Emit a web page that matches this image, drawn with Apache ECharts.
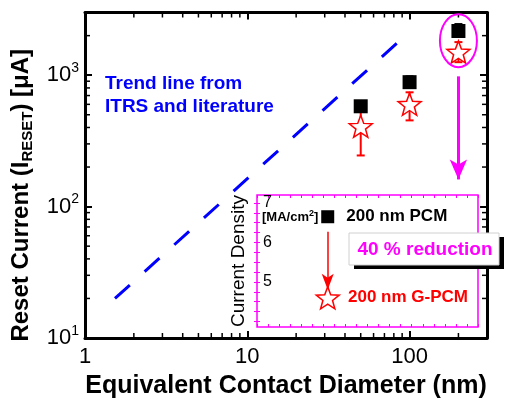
<!DOCTYPE html>
<html>
<head>
<meta charset="utf-8">
<script src="https://cdn.jsdelivr.net/npm/echarts@6/dist/echarts.min.js"></script>
<style>
  html, body { margin: 0; padding: 0; background: #fff; }
  #chart { width: 507px; height: 400px; }
</style>
</head>
<body>
<div id="chart"></div>
<script>
// values
const diameters = [50, 100, 200];
const pcmCurrent = [580, 885, 2170];
const pcmErrHigh = [580, 980, 2450];
const gpcmCurrent = [408, 601, 1500];
const gpcmErrLow = [245, 453, 1256];
const gpcmErrHigh = [570, 741, 1786];
const trendDiam = [1.53, 92];
const trendCurrent = [20, 1950];
const xMinorTicks = [2, 3, 4, 5, 6, 7, 8, 9, 20, 30, 40, 50, 60, 70, 80, 90, 200];
const yMinorTicks = [20, 30, 40, 50, 60, 70, 80, 90, 200, 300, 400, 500, 600, 700, 800, 900, 2000];
const xLabels = [1, 10, 100];
const yLabels = [10, 100, 1000];
const circledPoint = [200, 1830];
const arrowStart = [200, 980];
const arrowEnd = [200, 161];

// inset
const insetNames = ['200 nm PCM', '200 nm G-PCM'];
const insetDensity = [6.65, 4.6];
const insetPos = 3.2;
const insetYLabels = [5, 6, 7];
const insetYTicks = [4, 4.25, 4.5, 4.75, 5, 5.25, 5.5, 5.75, 6, 6.25, 6.5, 6.75, 7];
const insetArrow = [6.27, 4.8];

const FONT = "'Liberation Sans', Arial, Helvetica, sans-serif";
const MAGENTA = '#ff00ff';
const RED = '#ff0000';
const BLUE = '#0000ff';

function starPath() {
  let d = '';
  for (let i = 0; i < 10; i++) {
    const r = i % 2 ? 0.42 : 1;
    const a = -Math.PI / 2 + i * Math.PI / 5;
    d += (i ? 'L' : 'M') + (r * Math.cos(a)).toFixed(3) + ' ' + (r * Math.sin(a)).toFixed(3);
  }
  return 'path://' + d + 'Z';
}
const STAR = starPath();

function isOneOf(v, list) {
  return list.some((t) => Math.abs(v - t) / t < 1e-6);
}

let chart = echarts.init(document.getElementById('chart'));

const mainAxisLine = { lineStyle: { color: '#000', width: 3 } };
const mainTick = { inside: true, length: 7, lineStyle: { color: '#000', width: 2 } };
const pinkTick = { inside: true, length: 3, lineStyle: { color: MAGENTA, width: 1 } };

function errorBars(color, low, high) {
  return {
    type: 'custom',
    xAxisIndex: 0,
    yAxisIndex: 0,
    z: 3,
    silent: true,
    encode: { x: 0, y: [1, 2] },
    data: diameters.map((d, i) => [d, low[i], high[i]]),
    renderItem(params, api) {
      const p1 = api.coord([api.value(0), api.value(1)]);
      const p2 = api.coord([api.value(0), api.value(2)]);
      const w = 4;
      const st = { stroke: color, lineWidth: 2 };
      return {
        type: 'group',
        children: [
          { type: 'line', shape: { x1: p1[0], y1: p1[1], x2: p2[0], y2: p2[1] }, style: st },
          { type: 'line', shape: { x1: p1[0] - w, y1: p1[1], x2: p1[0] + w, y2: p1[1] }, style: st },
          { type: 'line', shape: { x1: p2[0] - w, y1: p2[1], x2: p2[0] + w, y2: p2[1] }, style: st },
        ],
      };
    },
  };
}

let option = {
  animation: false,
  textStyle: { fontFamily: FONT },
  grid: [
    { left: 85, right: 20, top: 12.5, bottom: 62, outerBoundsMode: 'none' },
    {
      left: 257, top: 195, width: 221, height: 132, outerBoundsMode: 'none',
      show: true, backgroundColor: '#fff', borderColor: MAGENTA, borderWidth: 1.5,
    },
  ],
  xAxis: [
    {
      type: 'log', gridIndex: 0, min: 1, max: 300, position: 'bottom',
      axisLine: mainAxisLine, axisTick: mainTick, splitLine: { show: false },
      axisLabel: {
        color: '#000', fontSize: 22, margin: 8, fontFamily: FONT,
        formatter: (v) => (isOneOf(v, xLabels) ? String(Math.round(v)) : ''),
      },
      name: 'Equivalent Contact Diameter (nm)',
      nameLocation: 'middle', nameGap: 36,
      nameTextStyle: { color: '#000', fontSize: 25, fontWeight: 'bold', fontFamily: FONT },
    },
    {
      type: 'log', gridIndex: 0, min: 1, max: 300, position: 'top',
      axisLine: mainAxisLine, axisTick: mainTick, splitLine: { show: false },
      axisLabel: { show: false },
    },
    {
      type: 'value', gridIndex: 1, min: 0, max: 10, interval: 0.5, position: 'bottom', z: 5,
      axisLine: { show: false }, axisTick: pinkTick, axisLabel: { show: false }, splitLine: { show: false },
    },
    {
      type: 'value', gridIndex: 1, min: 0, max: 10, interval: 0.5, position: 'top', z: 5,
      axisLine: { show: false }, axisTick: pinkTick, axisLabel: { show: false }, splitLine: { show: false },
    },
  ],
  yAxis: [
    {
      type: 'log', gridIndex: 0, min: 10, max: 3000, position: 'left',
      axisLine: mainAxisLine, axisTick: mainTick, splitLine: { show: false },
      axisLabel: {
        color: '#000', margin: 6, fontFamily: FONT,
        formatter: (v) => (isOneOf(v, yLabels) ? '{b|10}{s|' + Math.round(Math.log10(v)) + '}' : ''),
        rich: {
          b: { fontSize: 22, color: '#000', fontFamily: FONT },
          s: { fontSize: 14, color: '#000', fontFamily: FONT, padding: [0, 0, 14, 0] },
        },
      },
      name: 'Reset Current (I{sub|RESET}) [\u03bcA]',
      nameLocation: 'middle', nameGap: 50, nameRotate: 90,
      nameTextStyle: {
        color: '#000', fontSize: 24, fontWeight: 'bold', fontFamily: FONT, padding: [0, 40, 0, 0],
        rich: { sub: { fontSize: 15, fontWeight: 'bold', color: '#000', fontFamily: FONT, padding: [12, 0, 0, 0] } },
      },
    },
    {
      type: 'log', gridIndex: 0, min: 10, max: 3000, position: 'right',
      axisLine: mainAxisLine, axisTick: mainTick, splitLine: { show: false },
      axisLabel: { show: false },
    },
    {
      type: 'value', gridIndex: 1, min: 3.86, max: 7.2, position: 'left', z: 5,
      axisLine: { show: false }, splitLine: { show: false },
      axisTick: { inside: true, length: 3, lineStyle: { color: MAGENTA, width: 1 }, customValues: insetYTicks },
      axisLabel: { customValues: insetYLabels, inside: true, margin: 6, color: '#000', fontSize: 16, fontFamily: FONT },
      name: 'Current Density', nameLocation: 'middle', nameGap: 9, nameRotate: 90,
      nameTextStyle: { color: '#000', fontSize: 19, fontFamily: FONT },
    },
    {
      type: 'value', gridIndex: 1, min: 3.86, max: 7.2, position: 'right', z: 5,
      axisLine: { show: false }, splitLine: { show: false },
      axisTick: { inside: true, length: 3, lineStyle: { color: MAGENTA, width: 1 }, customValues: insetYTicks },
      axisLabel: { show: false },
    },
  ],
  series: [
    {
      // minor ticks on bottom/top
      type: 'custom', xAxisIndex: 0, yAxisIndex: 0, silent: true, z: 2,
      data: xMinorTicks.map((v) => [v, 100]),
      renderItem(params, api) {
        const cs = params.coordSys;
        const x = api.coord([api.value(0), 100])[0];
        const st = { stroke: '#000', lineWidth: 1.5 };
        return {
          type: 'group',
          children: [
            { type: 'line', shape: { x1: x, y1: cs.y + cs.height, x2: x, y2: cs.y + cs.height - 5 }, style: st },
            { type: 'line', shape: { x1: x, y1: cs.y, x2: x, y2: cs.y + 5 }, style: st },
          ],
        };
      },
    },
    {
      // minor ticks on left/right
      type: 'custom', xAxisIndex: 0, yAxisIndex: 0, silent: true, z: 2,
      data: yMinorTicks.map((v) => [10, v]),
      renderItem(params, api) {
        const cs = params.coordSys;
        const y = api.coord([10, api.value(1)])[1];
        const st = { stroke: '#000', lineWidth: 1.5 };
        return {
          type: 'group',
          children: [
            { type: 'line', shape: { x1: cs.x, y1: y, x2: cs.x + 5, y2: y }, style: st },
            { type: 'line', shape: { x1: cs.x + cs.width, y1: y, x2: cs.x + cs.width - 5, y2: y }, style: st },
          ],
        };
      },
    },
    {
      name: 'Trend line',
      type: 'line', xAxisIndex: 0, yAxisIndex: 0, symbol: 'none', silent: true,
      data: trendDiam.map((d, i) => [d, trendCurrent[i]]),
      lineStyle: { color: BLUE, width: 3, type: [20, 20] },
    },
    errorBars('#000', pcmCurrent, pcmErrHigh),
    errorBars(RED, gpcmErrLow, gpcmErrHigh),
    {
      name: 'PCM',
      type: 'scatter', xAxisIndex: 0, yAxisIndex: 0, z: 4,
      symbol: 'rect', symbolSize: 14,
      itemStyle: { color: '#000', opacity: 1 },
      data: diameters.map((d, i) => [d, pcmCurrent[i]]),
      markLine: {
        silent: true, symbol: ['none', 'arrow'], symbolSize: [13, 20],
        label: { show: false },
        lineStyle: { color: MAGENTA, width: 3, type: 'solid' },
        data: [[{ coord: arrowStart }, { coord: arrowEnd }]],
      },
    },
    {
      name: 'G-PCM',
      type: 'scatter', xAxisIndex: 0, yAxisIndex: 0, z: 5,
      symbol: STAR, symbolSize: [23, 22],
      itemStyle: { color: '#fff', borderColor: RED, borderWidth: 1.5, opacity: 1 },
      data: diameters.map((d, i) => [d, gpcmCurrent[i]]),
    },
    {
      // ellipse around the 200 nm points
      type: 'custom', xAxisIndex: 0, yAxisIndex: 0, silent: true, z: 6,
      data: [circledPoint],
      renderItem(params, api) {
        const c = api.coord([api.value(0), api.value(1)]);
        return {
          type: 'ellipse',
          shape: { cx: c[0], cy: c[1], rx: 18.5, ry: 26.5 },
          style: { fill: 'none', stroke: MAGENTA, lineWidth: 2 },
        };
      },
    },
    {
      name: insetNames[0],
      type: 'scatter', xAxisIndex: 2, yAxisIndex: 2, z: 6,
      symbol: 'rect', symbolSize: 13,
      itemStyle: { color: '#000', opacity: 1 },
      label: {
        show: true, position: 'right', distance: 12, formatter: insetNames[0],
        color: '#000', fontSize: 17, fontWeight: 'bold', fontFamily: FONT,
      },
      data: [[insetPos, insetDensity[0]]],
      markLine: {
        silent: true, symbol: ['none', 'arrow'], symbolSize: [9, 16],
        label: { show: false },
        lineStyle: { color: RED, width: 1.5, type: 'solid' },
        data: [[{ coord: [insetPos, insetArrow[0]] }, { coord: [insetPos, insetArrow[1]] }]],
      },
    },
    {
      name: insetNames[1],
      type: 'scatter', xAxisIndex: 2, yAxisIndex: 2, z: 6,
      symbol: STAR, symbolSize: [23, 22],
      itemStyle: { color: '#fff', borderColor: RED, borderWidth: 1.5, opacity: 1 },
      label: {
        show: true, position: 'right', distance: 8, formatter: insetNames[1],
        color: RED, fontSize: 17, fontWeight: 'bold', fontFamily: FONT,
      },
      data: [[insetPos, insetDensity[1]]],
    },
  ],
  graphic: [
    {
      type: 'text', left: 105, top: 72, z: 10, silent: true,
      style: {
        text: 'Trend line from\nITRS and literature',
        fill: BLUE, font: 'bold 19px ' + FONT, lineHeight: 23,
      },
    },
    {
      type: 'text', left: 262, top: 209, z: 10, silent: true,
      style: {
        text: '{u|[MA/cm}{s|2}{u|]}',
        rich: {
          u: { fill: '#000', font: 'bold 13px ' + FONT },
          s: { fill: '#000', font: 'bold 9px ' + FONT, padding: [0, 0, 7, 0] },
        },
      },
    },
    { type: 'rect', z: 20, silent: true, shape: { x: 354, y: 237, width: 150, height: 32 }, style: { fill: '#000' } },
    { type: 'rect', z: 21, silent: true, shape: { x: 349, y: 233, width: 150, height: 32 }, style: { fill: '#fff', stroke: '#d0d0d0', lineWidth: 1 } },
    {
      type: 'text', z: 22, silent: true, x: 425, y: 250,
      style: {
        text: '40 % reduction', fill: MAGENTA, font: 'bold 19px ' + FONT,
        align: 'center', verticalAlign: 'middle',
      },
    },
  ],
};

chart.setOption(option);
window.addEventListener('resize', () => {
  chart.resize();
});
</script>
</body>
</html>
